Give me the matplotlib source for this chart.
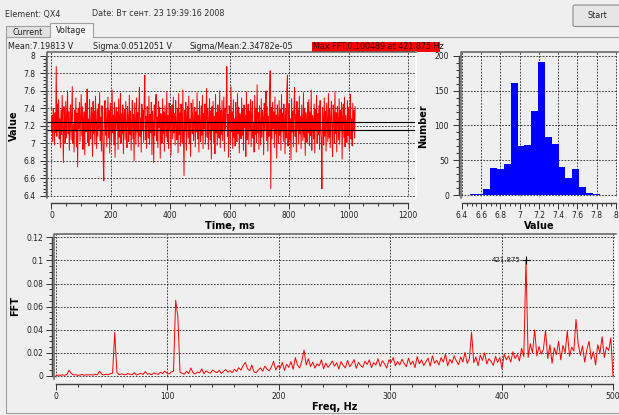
import numpy as np
import matplotlib
matplotlib.use('Agg')
import matplotlib.pyplot as plt
from matplotlib.lines import Line2D
from matplotlib.patches import Rectangle, FancyBboxPatch
from matplotlib.ticker import FixedLocator, FuncFormatter

W, H = 619, 415
BG = '#efefef'

# voltage samples, every 2 ms, read as hundredths of a volt around 7.2 V
time_step_ms = 2
signal_base = 7.2
signal_offsets = [
    -5, 12, -18, 20, 3, -22, 15, -8, 68, -12, 25, -6, 30, -15, 8, -25,
    18, -10, 35, -4, -42, 22, 6, -20, 28, -14, 10, 40, -9, 16, -28, 5,
    24, -16, 12, 45, -20, 2, -30, 18, -6, 32, -24, 14, -47, 20, -3, 27,
    -18, 9, 36, -11, 22, -27, 4, 16, -33, 26, -7, 13, 42, -19, 8, -23,
    30, -2, -15, 21, 11, -35, 28, -9, 17, -21, 34, 6, -26, 19, -12, 25,
    -4, 38, -17, 10, -29, 23, 1, -38, -63, 15, 29, -11, 20, -24, 7, 33,
    -14, 18, -31, 26, 3, -19, 41, -8, 12, -22, 27, -36, 9, 21, -5, 16,
    -27, 31, -13, 6, 37, -20, 14, -9, 24, -32, 11, 19, -16, 28, -3, -25,
    22, 8, -18, 35, -10, 17, -28, 4, 29, -15, 13, -40, 26, 2, -21, 32,
    -7, 15, -24, 20, 44, -12, 9, -30, 25, -5, 18, -19, 30, 58, -16, 11,
    -26, 22, 6, -14, 34, -21, 13, -8, 27, -33, 17, 3, -42, 24, -11, 19,
    36, -17, 10, -25, 28, -2, 21, -37, 14, 7, -20, 31, -9, 16, -29, 23,
    5, -13, 39, -18, 12, -26, 26, -4, 19, -34, 9, 24, -15, 33, -8, 14,
    -22, 29, 1, -16, 20, -31, 37, -10, 15, -23, 25, 6, -19, 41, -12, -57,
    18, -6, 27, -28, 11, 22, -14, 34, -20, 8, -35, 26, 13, -9, 30, -17,
    4, 21, -24, 16, -7, 38, -15, 12, -30, 28, 2, -18, 23, -11, 35, -26,
    14, -3, 25, -21, 9, 43, -13, 19, -27, 6, 31, -16, 17, -38, 22, -5,
    28, -19, 11, -32, 36, -8, 15, -22, 24, 3, -14, 40, -25, 18, -10, 29,
    -17, 7, 33, -29, 20, -4, 26, 68, -12, 13, -36, 23, 10, -20, 45, -7,
    16, -26, 30, -13, 8, -23, 27, 1, -18, 37, -9, 21, -31, 14, 5, -15,
    32, -11, 19, -28, 24, -2, 12, -35, 39, -16, 9, 25, -21, 17, -6, 30,
    -24, 13, 28, -14, 4, -30, 35, -10, 20, -19, 47, -8, 15, -27, 23, 2,
    -22, 31, -13, 18, 9, -33, 26, -5, 14, 40, -17, 22, -29, 11, -12, 34,
    63, -72, 21, -15, 27, -3, 16, -25, 33, -9, 12, -37, 24, 6, -20, 29,
    -11, 19, -28, 36, -6, 14, -18, 25, 3, -32, 20, -14, 42, 58, -23, 10,
    26, -16, 8, -39, 31, -7, 17, -24, 22, 44, -12, 13, -30, 28, -4, 18,
    -21, 34, -9, 11, -26, 24, 5, -17, 38, -13, 20, -34, 15, 1, -19, 27,
    -8, 30, -23, 16, -11, 41, -28, 12, 7, -15, 25, -31, 19, -5, 35, -20,
    14, -10, 23, -27, 29, -3, -16, -72, 21, 9, -22, 32, -12, 17, -29, 26,
    4, -18, 37, -14, 20, -25, 11, 28, -7, -35, 24, 13, -20, 39, -9, 15,
    -30, 22, 6, -16, 31, -21, 18, -4, 27, -38, 10, 25, -13, 33, -24, 12,
    2, -19, 29, -11, 21, -27, 16, 36, -15, 8, -23, 26, -6, 18, -14, 22,
]

mean_v = 7.19813
sigma_v = 0.0512051

# histogram of the voltage
hist_lo, hist_hi = 6.48, 7.83
hist_counts = [1, 2, 8, 39, 37, 44, 161, 70, 72, 121, 192, 83, 74, 41, 24, 37, 11, 3, 2]

# FFT magnitude, step 1000/512 Hz, read in units of 1e-4
fft_step_hz = 1000 / 512
fft_values = [
    3, 8, 6, 10, 7, 12, 50, 22, 9, 11, 6, 8, 13, 7, 10, 9,
    12, 8, 15, 10, 42, 14, 9, 16, 11, 20, 25, 377, 30, 12, 18, 14,
    10, 22, 15, 12, 28, 9, 17, 24, 13, 38, 16, 20, 11, 27, 19, 14,
    33, 21, 42, 25, 18, 35, 40, 656, 515, 30, 24, 15, 40, 22, 70, 26,
    18, 35, 28, 62, 20, 44, 31, 25, 52, 38, 29, 48, 22, 41, 55, 33,
    46, 30, 58, 39, 72, 50, 88, 118, 64, 45, 95, 36, 28, 52, 70, 41,
    85, 60, 44, 78, 128, 52, 90, 66, 118, 48, 102, 75, 125, 58, 160, 92,
    70, 130, 224, 95, 150, 82, 120, 68, 105, 88, 140, 62, 112, 75, 98, 130,
    85, 115, 60, 125, 92, 70, 135, 80, 108, 142, 66, 118, 90, 75, 128, 100,
    140, 72, 115, 95, 150, 82, 132, 105, 68, 140, 118, 160, 88, 125, 95, 145,
    110, 80, 155, 98, 130, 72, 168, 105, 140, 90, 122, 155, 85, 175, 110, 135,
    95, 160, 120, 190, 88, 145, 112, 175, 130, 98, 165, 120, 205, 108, 150, 380,
    115, 165, 90, 180, 135, 200, 105, 150, 125, 92, 170, 118, 160, 62, 190, 140,
    175, 120, 210, 150, 185, 130, 240, 165, 1005, 160, 280, 200, 400, 175, 255, 190,
    230, 395, 150, 270, 110, 245, 185, 300, 140, 265, 200, 390, 170, 250, 215, 490,
    280, 180, 260, 120, 230, 300, 145, 210, 95, 270, 195, 340, 160, 250, 220, 330,
    0,
]
peak_freq = 421.875
peak_val = 0.100489

t = np.arange(len(signal_offsets)) * time_step_ms
volts = signal_base + np.array(signal_offsets) / 100.0
freqs = np.arange(len(fft_values)) * fft_step_hz
fft = np.array(fft_values) * 1e-4
edges = np.linspace(hist_lo, hist_hi, len(hist_counts) + 1)

fig = plt.figure(figsize=(W / 100, H / 100), dpi=100, facecolor=BG)

# background layer in pixel coordinates for the window widgets
bg = fig.add_axes([0, 0, 1, 1], zorder=-10)
bg.set_xlim(0, W)
bg.set_ylim(H, 0)
bg.axis('off')

def ptext(x, y, s, **kw):
    bg.text(x, y, s, **kw)

ptext(5, 14, 'Element: QX4', fontsize=5.8, va='center', color='#303030')
ptext(92, 14, 'Date: Вт сент. 23 19:39:16 2008', fontsize=5.8, va='center', color='#303030')
bg.add_patch(FancyBboxPatch((573, 5), 48, 21.5, boxstyle='round,pad=0,rounding_size=2',
                            fc='#e6e6e6', ec='#8c8c8c', lw=0.8))
ptext(597, 15.5, 'Start', fontsize=5.8, ha='center', va='center', color='#202020')

# tabs and pane
bg.add_patch(Rectangle((5.7, 26.5), 44.3, 10.8, fc='#e2e2e2', ec='#a0a0a0', lw=0.8))
bg.add_patch(Rectangle((50, 22.7), 42.7, 15, fc='#f4f4f4', ec='none'))
bg.add_line(Line2D([50, 50, 92.7, 92.7], [37.3, 22.7, 22.7, 37.3], color='#a0a0a0', lw=0.8))
ptext(27.8, 32.3, 'Current', fontsize=5.8, ha='center', va='center', color='#202020')
ptext(71.3, 30.5, 'Voltage', fontsize=5.8, ha='center', va='center', color='#202020')
bg.add_line(Line2D([92.7, W], [37.3, 37.3], color='#a0a0a0', lw=0.8))
bg.add_line(Line2D([5.7, 5.7, W], [37.3, 413, 413], color='#a0a0a0', lw=0.8))

ptext(8, 46.5, 'Mean:7.19813 V', fontsize=5.8, va='center', color='#202020')
ptext(92.7, 46.5, 'Sigma:0.0512051 V', fontsize=5.8, va='center', color='#202020')
ptext(190, 46.5, 'Sigma/Mean:2.34782e-05', fontsize=5.8, va='center', color='#202020')
bg.add_patch(Rectangle((311.7, 41.7), 128.3, 10, fc='#ff0000', ec='none'))
ptext(313, 46.7, 'Max FFT:0.100489 at 421.875 Hz', fontsize=5.8, va='center', color='#300000')


def px_axes(l, t_, r, b):
    return fig.add_axes([l / W, 1 - b / H, (r - l) / W, (b - t_) / H])


def style(ax, xlim, ylim, xmaj, xmin, ymaj, ymin, out_left, out_bottom, ypad):
    ax.set_facecolor(BG)
    ax.set_xlim(*xlim)
    ax.set_ylim(*ylim)
    ax.xaxis.set_major_locator(FixedLocator(xmaj))
    ax.xaxis.set_minor_locator(FixedLocator(xmin))
    ax.yaxis.set_major_locator(FixedLocator(ymaj))
    ax.yaxis.set_minor_locator(FixedLocator(ymin))
    g = FuncFormatter(lambda v, p: f'{v:g}')
    ax.xaxis.set_major_formatter(g)
    ax.yaxis.set_major_formatter(g)
    for s in ('top', 'right'):
        ax.spines[s].set_visible(False)
    ax.spines['left'].set_position(('outward', out_left))
    ax.spines['bottom'].set_position(('outward', out_bottom))
    ax.spines['left'].set_bounds(ymaj[0], ymaj[-1])
    ax.spines['bottom'].set_bounds(xmaj[0], xmaj[-1])
    for s in ('left', 'bottom'):
        ax.spines[s].set_color('#404040')
        ax.spines[s].set_linewidth(1.0)
    ax.tick_params(which='major', length=4.3, width=0.7, color='#303030',
                   labelsize=5.5, labelcolor='#202020')
    ax.tick_params(which='minor', length=2.5, width=0.7, color='#303030')
    ax.tick_params(axis='x', pad=1.5)
    ax.tick_params(axis='y', pad=ypad)
    ax.grid(True, which='major', color='black', linestyle=(0, (2.5, 2)), linewidth=0.5)
    ax.set_axisbelow(True)
    kw = dict(transform=ax.transAxes, clip_on=False, zorder=6)
    ax.add_line(Line2D([0, 1, 1], [0, 0, 1], color='white', lw=1.2, **kw))
    ax.add_line(Line2D([0, 0, 1], [0, 1, 1], color='#606060', lw=1.1, **kw))


# time plot
ax1 = px_axes(47.5, 52.5, 415.5, 198.5)
style(ax1, (-13.4, 1225), (6.368, 8.04),
      np.arange(0, 1201, 200), np.arange(0, 1201, 50),
      np.round(np.arange(6.4, 8.001, 0.2), 2), np.round(np.arange(6.4, 8.001, 0.04), 2),
      1.1, 3.0, 3.5)
ax1.plot(t, volts, color='#ff0000', lw=0.7, zorder=3)
ax1.axhline(mean_v + sigma_v, color='black', lw=0.8, zorder=4)
ax1.axhline(mean_v - sigma_v, color='black', lw=0.8, zorder=4)
ptext(229.5, 226, 'Time, ms', fontsize=7, fontweight='bold', ha='center', va='center')
ptext(14, 126, 'Value', fontsize=7, fontweight='bold', ha='center', va='center', rotation=90)

# histogram
ax2 = px_axes(461, 52.5, 618, 198.5)
style(ax2, (6.39, 8.021), (-5.0, 205.0),
      np.round(np.arange(6.4, 8.001, 0.2), 2), np.round(np.arange(6.4, 8.001, 0.05), 2),
      np.arange(0, 201, 50), np.arange(0, 201, 10),
      1.4, 3.0, 3.0)
ax2.bar(edges[:-1], hist_counts, width=np.diff(edges), align='edge',
        color='#0000ff', edgecolor='none', zorder=3)
ptext(539, 226, 'Value', fontsize=7, fontweight='bold', ha='center', va='center')
ptext(423, 126, 'Number', fontsize=7, fontweight='bold', ha='center', va='center', rotation=90)

# FFT
ax3 = px_axes(53.5, 233.7, 616, 379)
style(ax3, (-2.24, 502.7), (-0.0026, 0.1231),
      np.arange(0, 501, 100), np.arange(0, 501, 20),
      np.round(np.arange(0, 0.1201, 0.02), 3), np.round(np.arange(0, 0.1201, 0.005), 3),
      1.3, 3.8, 1.5)
ax3.plot(freqs, fft, color='#ff0000', lw=0.7, zorder=3)
ax3.plot([peak_freq], [peak_val], marker='+', color='black', ms=6, mew=0.8, zorder=5)
ax3.annotate(f'{peak_freq:g}', (peak_freq, peak_val), xytext=(-4, 0), textcoords='offset points',
             ha='right', va='center', fontsize=5, color='#202020', zorder=5)
ptext(335, 407, 'Freq, Hz', fontsize=7, fontweight='bold', ha='center', va='center')
ptext(15, 306, 'FFT', fontsize=7, fontweight='bold', ha='center', va='center', rotation=90)

fig.savefig('out.png', dpi=100, facecolor=BG)
